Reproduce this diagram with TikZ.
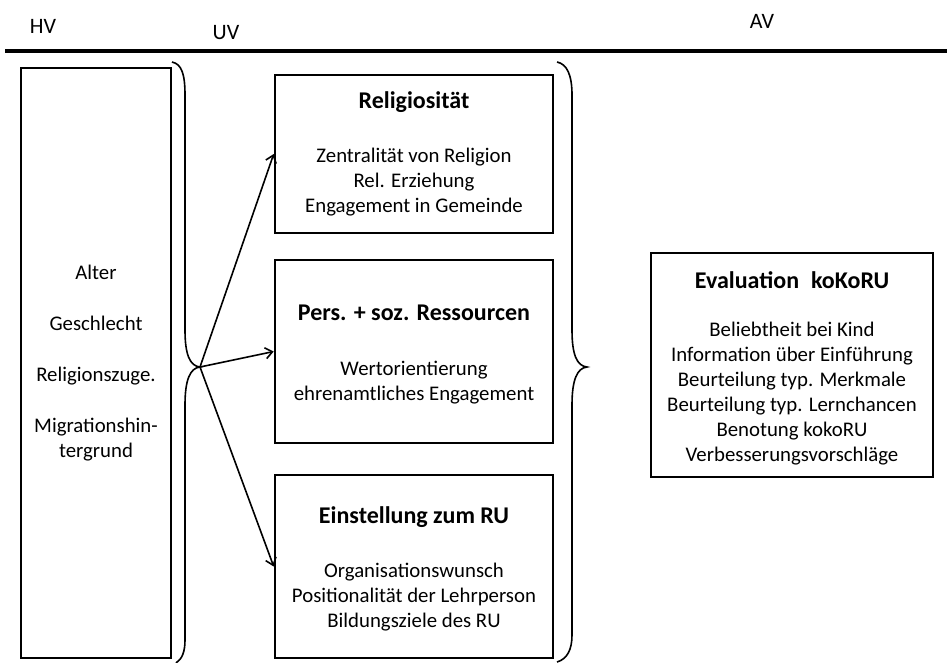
\documentclass[tikz,border=0pt]{standalone}
\usepackage{fontspec}
\setmainfont{Carlito}
\usetikzlibrary{positioning,arrows.meta}

\begin{document}
\begin{tikzpicture}[x=1pt,y=-1pt,line width=1.6pt,
	box/.style = {draw, line width=2.6pt, inner sep=0pt},
	colhead/.style = {font=\fontsize{22}{26}\selectfont},
	head/.style = {font=\fontsize{24}{29}\selectfont\bfseries},
	items/.style = {align=center, font=\fontsize{20.8}{25}\selectfont},
	>={Straight Barb[length=7pt,width=11pt]}]
		\useasboundingbox (0,0) rectangle (947,662);
		%Column heads and rule
		\node[colhead] (hvhead) at (43,26) {HV};
		\node[colhead] (uvhead) at (226,33) {UV};
		\node[colhead] (avhead) at (762,21) {AV};
		\coordinate (rulel) at (5,51);
		\coordinate (ruler) at (947,51);
		\draw[line width=4.5pt] (rulel) -- (ruler);
		
		%HV box
		\node[box, items, minimum width=150pt, minimum height=590pt] (hv) at (96,363)
			{Alter\\[26pt]Geschlecht\\[26pt]Religionszuge.\\[26pt]Migrationshin-\\tergrund};
		
		%UV boxes
		\node[box, minimum width=278pt, minimum height=158pt] (rel) at (414,154) {};
		\node[head] (relhead) at (414,102) {Religiosität};
		\node[items] (relitems) at (414,182) {Zentralität von Religion\\Rel. Erziehung\\Engagement in Gemeinde};
		
		\node[box, minimum width=278pt, minimum height=183pt] (res) at (414,351.5) {};
		\node[head] (reshead) at (414,313) {Pers. + soz. Ressourcen};
		\node[items] (resitems) at (414,382.5) {Wertorientierung\\ehrenamtliches Engagement};
		
		\node[box, minimum width=278pt, minimum height=183pt] (ein) at (414,566.5) {};
		\node[head] (einhead) at (414,517) {Einstellung zum RU};
		\node[items] (einitems) at (414,597) {Organisationswunsch\\Positionalität der Lehrperson\\Bildungsziele des RU};
		
		%AV box
		\node[box, minimum width=282pt, minimum height=224pt] (av) at (792,365) {};
		\node[head] (avtitle) at (792,280) {Evaluation\enspace koKoRU};
		\node[items] (avitems) at (792,393.5) {Beliebtheit bei Kind\\Information über Einführung\\Beurteilung typ. Merkmale\\Beurteilung typ. Lernchancen\\Benotung kokoRU\\Verbesserungsvorschläge};
		
		%Braces
		\coordinate (hvtip) at (200,367);
		\coordinate (uvtip) at (587,367);
		\draw (172,62) .. controls (182,64) and (185,75) .. (185,95) -- (185,330)
			.. controls (185,355) and (190,366) .. (hvtip)
			.. controls (190,368) and (185,380) .. (185,405) -- (185,640)
			.. controls (185,652) and (182,659) .. (176,663);
		\draw (557,62) .. controls (567,64) and (572,75) .. (572,95) -- (572,330)
			.. controls (572,355) and (577,366) .. (uvtip)
			.. controls (577,368) and (572,380) .. (572,405) -- (572,635)
			.. controls (572,650) and (567,659) .. (557,662);
		
		%Arrows HV -> UV
		\draw[->] (hvtip) -- (rel.west);
		\draw[->] (hvtip) -- (res.west);
		\draw[->] (hvtip) -- (ein.west);
		
\end{tikzpicture}
\end{document}
